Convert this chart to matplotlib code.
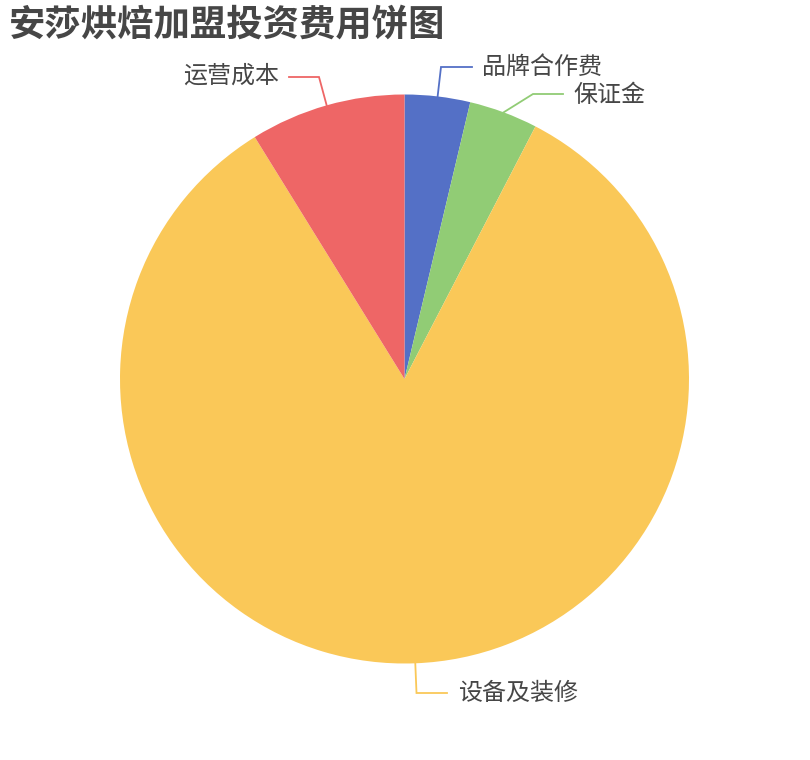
import numpy as np
import matplotlib
matplotlib.use("Agg")
import matplotlib.pyplot as plt

plt.rcParams['font.family'] = ['Noto Sans CJK SC', 'DejaVu Sans']

# data
categories = ['品牌合作费', '保证金', '设备及装修', '运营成本']
values = [4.0, 4.2, 90.0, 9.5]
colors = ['#5470c6', '#91cc75', '#fac858', '#ee6666']
title = '安莎烘焙加盟投资费用饼图'

W, H = 810, 760
fig = plt.figure(figsize=(W / 100, H / 100), dpi=100)
ax = fig.add_axes([0, 0, 1, 1])
ax.set_xlim(0, W)
ax.set_ylim(0, H)
ax.set_aspect('equal')
ax.axis('off')

cx, cy_px, R = 404.5, 379.0, 284.5
cy = H - cy_px

wedges, _ = ax.pie(values, colors=colors, startangle=90, counterclock=False,
                   center=(cx, cy), radius=R, frame=True,
                   wedgeprops=dict(linewidth=0))
ax.set_xlim(0, W)
ax.set_ylim(0, H)
ax.axis('off')

# label layout (pixel coords, y from top): elbow point, line end, text anchor, alignment
layout = {
    '品牌合作费': dict(elbow=(441, 67), end=(472, 67), text=(482, 67), ha='left'),
    '保证金': dict(elbow=(533, 94), end=(563, 94), text=(573, 95), ha='left'),
    '设备及装修': dict(elbow=(416.5, 693), end=(447, 693), text=(458, 693), ha='left'),
    '运营成本': dict(elbow=(319, 77), end=(289, 77), text=(279, 76), ha='right'),
}

for w, name, col in zip(wedges, categories, colors):
    mid = np.deg2rad((w.theta1 + w.theta2) / 2)
    ex, ey = cx + R * np.cos(mid), cy + R * np.sin(mid)
    L = layout[name]
    xs = [ex, L['elbow'][0], L['end'][0]]
    ys = [ey, H - L['elbow'][1], H - L['end'][1]]
    ax.plot(xs, ys, color=col, lw=1.3, solid_joinstyle='miter')
    ax.text(L['text'][0], H - L['text'][1], name, ha=L['ha'], va='center',
            fontsize=17.3, color='#464646')

fig.text(9 / W, 1 - 25 / H, title, ha='left', va='center', fontsize=26.2,
         fontweight='bold', color='#464646')

fig.savefig('out.png', dpi=100, facecolor='white')
